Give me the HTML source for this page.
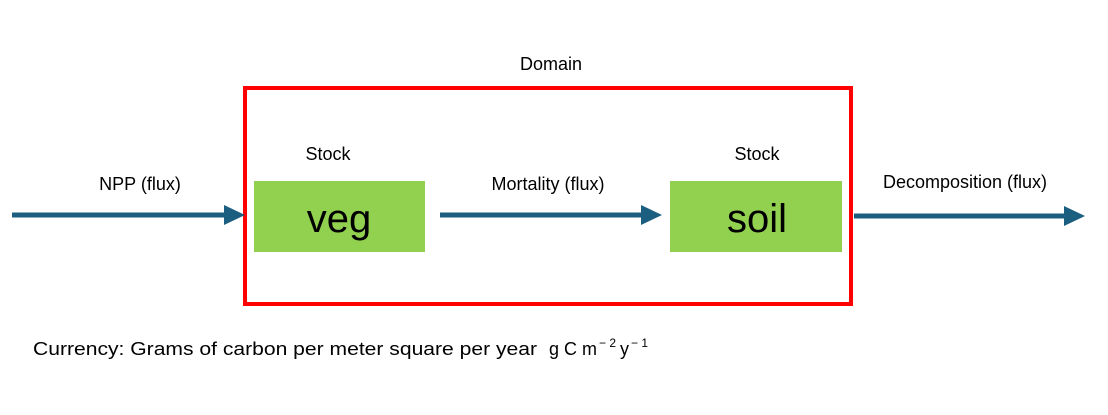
<!DOCTYPE html>
<html><head><style>
html,body{margin:0;padding:0;background:#fff;}
svg{display:block;}
text{font-family:"Liberation Sans",sans-serif;fill:#000;}
</style></head><body>
<svg width="1108" height="415" viewBox="0 0 1108 415" xmlns="http://www.w3.org/2000/svg">
<rect x="245" y="88" width="606" height="216" fill="none" stroke="#FF0000" stroke-width="4"/>
<rect x="254" y="181" width="171" height="71" fill="#92D050"/>
<rect x="670" y="181" width="172" height="71" fill="#92D050"/>
<g fill="#1B5E80" stroke="#1B5E80">
<line x1="12" y1="215" x2="226" y2="215" stroke-width="5"/>
<polygon points="224,205 245,215 224,225" stroke="none"/>
<line x1="440" y1="215" x2="643" y2="215" stroke-width="5"/>
<polygon points="641,205 662,215 641,225" stroke="none"/>
<line x1="854" y1="216" x2="1066" y2="216" stroke-width="5"/>
<polygon points="1064,206 1085,216 1064,226" stroke="none"/>
</g>
<text x="551" y="70" font-size="18" text-anchor="middle">Domain</text>
<text x="328" y="160" font-size="18" text-anchor="middle">Stock</text>
<text x="757" y="160" font-size="18" text-anchor="middle">Stock</text>
<text x="140" y="190" font-size="18" text-anchor="middle">NPP (flux)</text>
<text x="548" y="190" font-size="18" text-anchor="middle">Mortality (flux)</text>
<text x="965" y="188" font-size="18" text-anchor="middle">Decomposition (flux)</text>
<text x="339" y="232" font-size="40" text-anchor="middle">veg</text>
<text x="757" y="232" font-size="40" text-anchor="middle">soil</text>
<text x="33" y="355" font-size="18" textLength="504" lengthAdjust="spacingAndGlyphs">Currency: Grams of carbon per meter square per year</text>
<text x="549" y="355" font-size="18">g C m<tspan font-size="12" dy="-8" dx="2">− 2</tspan><tspan dy="8" dx="4">y</tspan><tspan font-size="12" dy="-8" dx="2">− 1</tspan></text>
</svg>
</body></html>
